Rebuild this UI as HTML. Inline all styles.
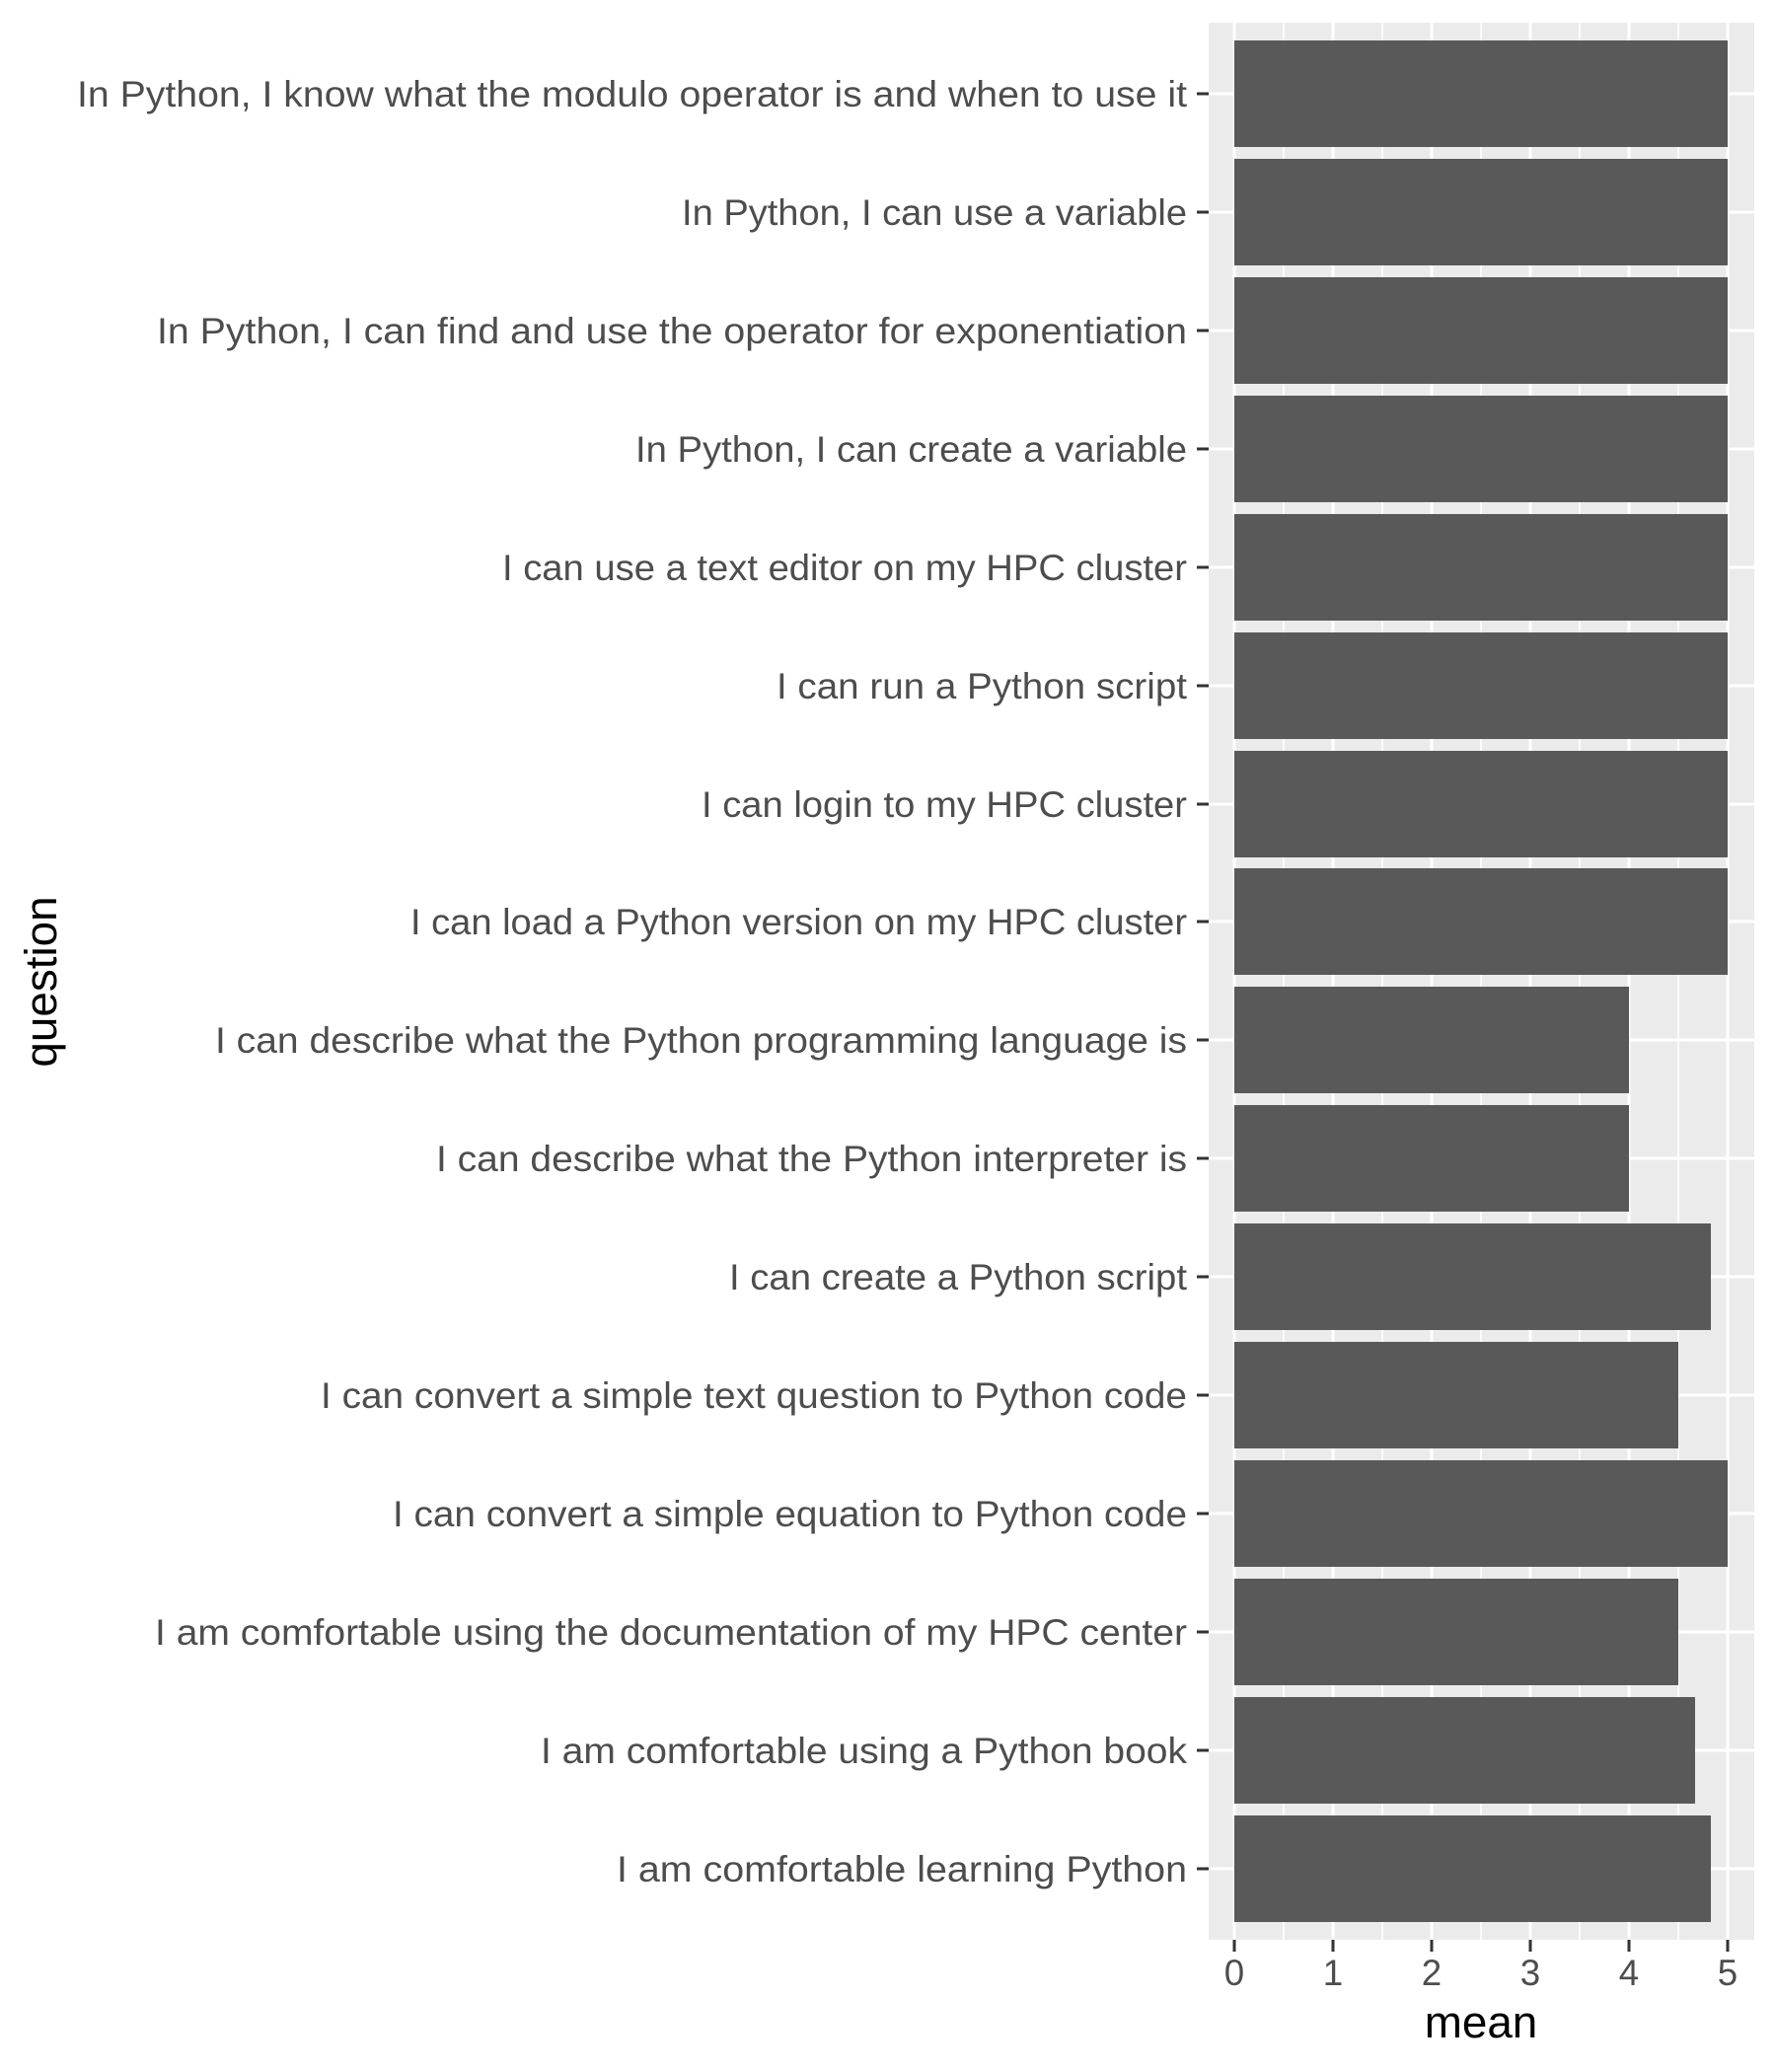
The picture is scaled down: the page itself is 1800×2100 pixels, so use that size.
<!DOCTYPE html>
<html><head><meta charset="utf-8"><style>html,body{margin:0;padding:0;background:#fff}svg{display:block}</style></head>
<body>
<svg width="1800" height="2100" xmlns="http://www.w3.org/2000/svg" font-family="Liberation Sans, DejaVu Sans, sans-serif">
<rect x="0" y="0" width="1800" height="2100" fill="#fff"/>
<rect x="1225" y="23" width="553" height="1943" fill="#EBEBEB"/>
<g stroke="#fff" stroke-width="1.6">
<line x1="1301" y1="23" x2="1301" y2="1966"/><line x1="1401" y1="23" x2="1401" y2="1966"/><line x1="1501" y1="23" x2="1501" y2="1966"/><line x1="1601" y1="23" x2="1601" y2="1966"/><line x1="1701" y1="23" x2="1701" y2="1966"/>
</g>
<g stroke="#fff" stroke-width="3">
<line x1="1251" y1="23" x2="1251" y2="1966"/><line x1="1351" y1="23" x2="1351" y2="1966"/><line x1="1451" y1="23" x2="1451" y2="1966"/><line x1="1551" y1="23" x2="1551" y2="1966"/><line x1="1651" y1="23" x2="1651" y2="1966"/><line x1="1751" y1="23" x2="1751" y2="1966"/>
<line x1="1225" y1="95" x2="1778" y2="95"/><line x1="1225" y1="215" x2="1778" y2="215"/><line x1="1225" y1="335" x2="1778" y2="335"/><line x1="1225" y1="455" x2="1778" y2="455"/><line x1="1225" y1="575" x2="1778" y2="575"/><line x1="1225" y1="695" x2="1778" y2="695"/><line x1="1225" y1="815" x2="1778" y2="815"/><line x1="1225" y1="934" x2="1778" y2="934"/><line x1="1225" y1="1054" x2="1778" y2="1054"/><line x1="1225" y1="1174" x2="1778" y2="1174"/><line x1="1225" y1="1294" x2="1778" y2="1294"/><line x1="1225" y1="1414" x2="1778" y2="1414"/><line x1="1225" y1="1534" x2="1778" y2="1534"/><line x1="1225" y1="1654" x2="1778" y2="1654"/><line x1="1225" y1="1774" x2="1778" y2="1774"/><line x1="1225" y1="1894" x2="1778" y2="1894"/>
</g>
<g fill="#595959">
<rect x="1251" y="41" width="500" height="108"/>
<rect x="1251" y="161" width="500" height="108"/>
<rect x="1251" y="281" width="500" height="108"/>
<rect x="1251" y="401" width="500" height="108"/>
<rect x="1251" y="521" width="500" height="108"/>
<rect x="1251" y="641" width="500" height="108"/>
<rect x="1251" y="761" width="500" height="108"/>
<rect x="1251" y="880" width="500" height="108"/>
<rect x="1251" y="1000" width="400" height="108"/>
<rect x="1251" y="1120" width="400" height="108"/>
<rect x="1251" y="1240" width="483" height="108"/>
<rect x="1251" y="1360" width="450" height="108"/>
<rect x="1251" y="1480" width="500" height="108"/>
<rect x="1251" y="1600" width="450" height="108"/>
<rect x="1251" y="1720" width="467" height="108"/>
<rect x="1251" y="1840" width="483" height="108"/>
</g>
<g stroke="#333" stroke-width="3">
<line x1="1251" y1="1966" x2="1251" y2="1978"/><line x1="1351" y1="1966" x2="1351" y2="1978"/><line x1="1451" y1="1966" x2="1451" y2="1978"/><line x1="1551" y1="1966" x2="1551" y2="1978"/><line x1="1651" y1="1966" x2="1651" y2="1978"/><line x1="1751" y1="1966" x2="1751" y2="1978"/>
<line x1="1213" y1="95" x2="1225" y2="95"/><line x1="1213" y1="215" x2="1225" y2="215"/><line x1="1213" y1="335" x2="1225" y2="335"/><line x1="1213" y1="455" x2="1225" y2="455"/><line x1="1213" y1="575" x2="1225" y2="575"/><line x1="1213" y1="695" x2="1225" y2="695"/><line x1="1213" y1="815" x2="1225" y2="815"/><line x1="1213" y1="934" x2="1225" y2="934"/><line x1="1213" y1="1054" x2="1225" y2="1054"/><line x1="1213" y1="1174" x2="1225" y2="1174"/><line x1="1213" y1="1294" x2="1225" y2="1294"/><line x1="1213" y1="1414" x2="1225" y2="1414"/><line x1="1213" y1="1534" x2="1225" y2="1534"/><line x1="1213" y1="1654" x2="1225" y2="1654"/><line x1="1213" y1="1774" x2="1225" y2="1774"/><line x1="1213" y1="1894" x2="1225" y2="1894"/>
</g>
<g fill="#4D4D4D" font-size="36.7" text-anchor="middle">
<text x="1251" y="2012">0</text><text x="1351" y="2012">1</text><text x="1451" y="2012">2</text><text x="1551" y="2012">3</text><text x="1651" y="2012">4</text><text x="1751" y="2012">5</text>
</g>
<text x="1501" y="2065" font-size="45.8" text-anchor="middle" fill="#000">mean</text>
<text x="57" y="995" font-size="45.8" text-anchor="middle" fill="#000" transform="rotate(-90 57 995)">question</text>
<g fill="#4D4D4D" font-size="36.7" text-anchor="end">
<text x="1203" y="108" textLength="1125" lengthAdjust="spacingAndGlyphs">In Python, I know what the modulo operator is and when to use it</text>
<text x="1203" y="228" textLength="512" lengthAdjust="spacingAndGlyphs">In Python, I can use a variable</text>
<text x="1203" y="348" textLength="1044" lengthAdjust="spacingAndGlyphs">In Python, I can find and use the operator for exponentiation</text>
<text x="1203" y="468" textLength="559" lengthAdjust="spacingAndGlyphs">In Python, I can create a variable</text>
<text x="1203" y="588" textLength="694" lengthAdjust="spacingAndGlyphs">I can use a text editor on my HPC cluster</text>
<text x="1203" y="708" textLength="416" lengthAdjust="spacingAndGlyphs">I can run a Python script</text>
<text x="1203" y="828" textLength="492" lengthAdjust="spacingAndGlyphs">I can login to my HPC cluster</text>
<text x="1203" y="947" textLength="787" lengthAdjust="spacingAndGlyphs">I can load a Python version on my HPC cluster</text>
<text x="1203" y="1067" textLength="985" lengthAdjust="spacingAndGlyphs">I can describe what the Python programming language is</text>
<text x="1203" y="1187" textLength="761" lengthAdjust="spacingAndGlyphs">I can describe what the Python interpreter is</text>
<text x="1203" y="1307" textLength="464" lengthAdjust="spacingAndGlyphs">I can create a Python script</text>
<text x="1203" y="1427" textLength="878" lengthAdjust="spacingAndGlyphs">I can convert a simple text question to Python code</text>
<text x="1203" y="1547" textLength="805" lengthAdjust="spacingAndGlyphs">I can convert a simple equation to Python code</text>
<text x="1203" y="1667" textLength="1046" lengthAdjust="spacingAndGlyphs">I am comfortable using the documentation of my HPC center</text>
<text x="1203" y="1787" textLength="655" lengthAdjust="spacingAndGlyphs">I am comfortable using a Python book</text>
<text x="1203" y="1907" textLength="578" lengthAdjust="spacingAndGlyphs">I am comfortable learning Python</text>
</g>
</svg>
</body></html>
